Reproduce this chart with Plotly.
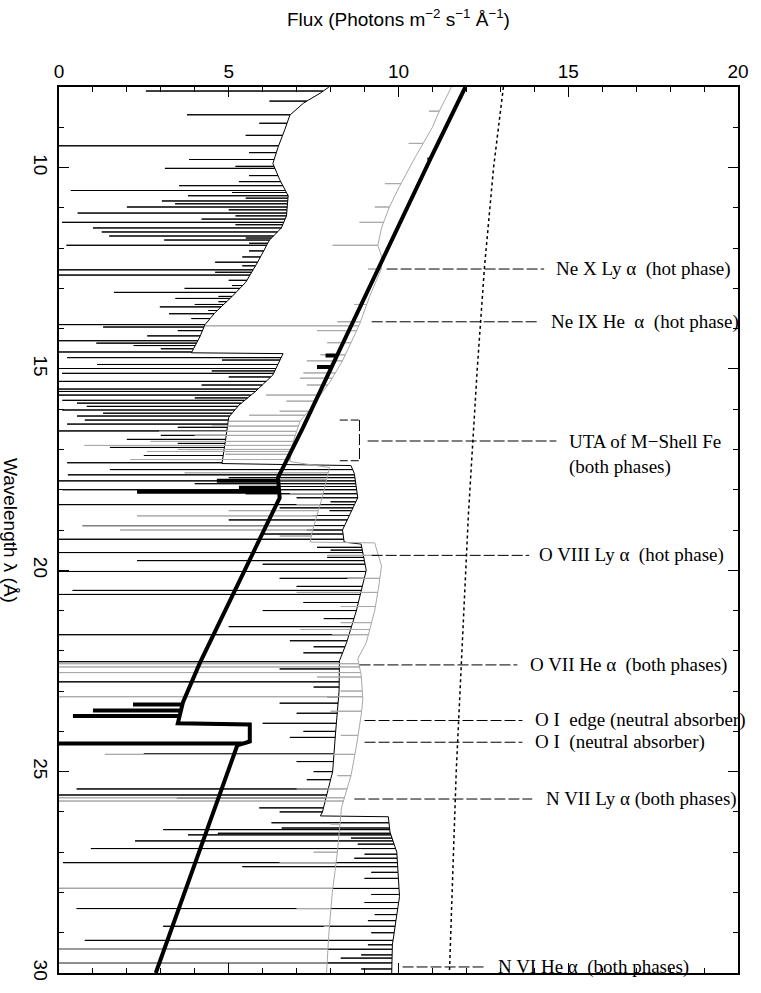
import numpy as np
import plotly.graph_objects as go

# ---------------- data ----------------
# thin black model spectrum: continuum knots (wavelength A, flux)
black_cont_wl = [8.00, 8.15, 8.40, 8.70, 9.06, 9.50, 9.90, 10.30, 10.70, 11.20, 11.50, 11.80,
                 12.35, 12.85, 13.20, 13.60, 13.90, 14.20, 14.60, 14.62, 15.15, 15.55, 15.90,
                 16.20, 16.80, 17.35, 17.40, 17.60, 18.20, 19.00, 19.30, 19.35, 20.00, 21.00,
                 21.80, 22.25, 23.00, 24.00, 25.00, 26.00, 26.10, 26.12, 26.50, 27.00, 28.10,
                 29.30, 30.00]
black_cont_flux = [7.95, 7.70, 7.20, 6.80, 6.65, 6.45, 6.30, 6.50, 6.75, 6.70, 6.55, 6.20,
                   5.85, 5.50, 5.10, 4.60, 4.30, 4.15, 3.90, 6.60, 6.30, 5.80, 5.30,
                   5.00, 4.90, 4.80, 8.60, 8.70, 8.80, 8.35, 8.40, 8.90, 9.05, 8.76,
                   8.47, 8.26, 8.25, 8.15, 8.06, 7.76, 7.70, 9.70, 9.75, 9.95, 10.03,
                   9.82, 9.80]
# absorption lines of the thin black spectrum: wavelength and minimum flux
black_line_wl = [8.10, 8.35, 8.69, 8.90, 9.20, 9.46, 9.63, 9.80, 9.97, 10.02, 10.20, 10.35,
                 10.45, 10.57, 10.62, 10.70, 10.76, 10.83, 10.90, 10.98, 11.05, 11.13, 11.20,
                 11.28, 11.36, 11.42, 11.50, 11.60, 11.70, 11.75, 11.80, 11.88, 11.93, 12.07,
                 12.22, 12.35, 12.44, 12.54, 12.60, 12.67, 12.80, 12.93, 13.00, 13.10, 13.20,
                 13.25, 13.33, 13.40, 13.46, 13.55, 13.63, 13.75, 13.90, 13.96, 14.05, 14.18,
                 14.30, 14.36, 14.42, 14.50, 14.58,
                 14.72, 14.78, 14.89, 14.99, 15.05, 15.11, 15.20, 15.31, 15.40, 15.50, 15.56,
                 15.65, 15.72, 15.78, 15.85, 15.93, 16.02, 16.10, 16.17, 16.27, 16.37, 16.45,
                 16.54, 16.65, 16.75, 16.85, 16.95, 17.05, 17.15, 17.25, 17.33,
                 17.50, 17.63, 17.70, 17.78, 17.85, 17.92, 18.00, 18.10, 18.20, 18.30, 18.37,
                 18.45, 18.52, 18.64, 18.75, 18.89, 19.00, 19.10, 19.23, 19.43, 19.50, 19.56,
                 19.68, 19.76, 19.85, 20.03, 20.20, 20.40, 20.50, 20.60, 20.80, 21.00, 21.20,
                 21.40, 21.60, 21.75, 21.90, 22.05, 22.27, 22.45, 22.77, 22.90, 23.14, 23.30,
                 23.55, 23.80, 24.00, 24.15, 24.55, 24.75, 25.00, 25.20, 25.43, 25.58, 25.65,
                 25.90, 26.00,
                 26.27, 26.40, 26.44, 26.53, 26.57, 26.65, 26.72, 26.80, 26.91, 27.05, 27.15,
                 27.26, 27.36, 27.50, 27.65, 27.90, 28.05, 28.25, 28.40, 28.55, 28.70, 28.84,
                 29.00, 29.19, 29.30, 29.41, 29.55, 29.63, 29.75, 29.90]
black_line_min = [2.56, 6.20, 3.77, 5.90, 5.50, 0.00, 5.60, 3.83, 5.20, 3.12, 5.60, 5.30,
                  3.54, 0.35, 5.10, 3.80, 5.50, 3.03, 3.42, 2.00, 5.00, 0.55, 5.20,
                  4.20, 0.09, 5.20, 1.00, 1.26, 1.48, 5.50, 3.10, 5.60, 0.22, 5.60,
                  5.40, 4.60, 5.40, 0.00, 4.60, 0.00, 5.00, 5.10, 3.70, 1.62, 4.70,
                  3.43, 4.70, 4.00, 2.97, 4.40, 3.24, 3.90, 0.00, 1.30, 3.50, 2.60,
                  0.00, 1.10, 2.20, 3.00, 0.00,
                  0.24, 4.80, 1.12, 0.26, 4.50, 0.09, 5.00, 0.00, 4.20, 0.00, 0.00,
                  0.00, 4.00, 0.10, 0.53, 0.82, 0.10, 1.30, 0.53, 0.76, 0.24, 3.50,
                  0.00, 3.00, 2.00, 3.50, 1.50, 3.80, 2.50, 3.20, 0.24,
                  1.50, 0.26, 5.00, 0.00, 4.00, 6.50, 0.10, 5.50, 7.00, 8.00, 0.00,
                  6.50, 7.97, 7.50, 5.00, 0.70, 7.30, 6.00, 0.00, 7.60, 8.00, 0.00,
                  7.90, 2.30, 6.00, 0.00, 6.50, 7.00, 0.40, 0.00, 7.20, 6.00, 7.80,
                  5.00, 0.00, 6.80, 7.50, 7.20, 0.00, 6.50, 0.00, 7.50, 7.90, 6.50,
                  7.00, 6.00, 7.20, 6.80, 2.50, 7.00, 7.50, 7.30, 0.52, 0.00, 3.47,
                  5.90, 6.50,
                  6.26, 6.56, 3.07, 4.68, 3.80, 8.60, 2.24, 8.80, 0.94, 9.00, 8.70,
                  0.12, 5.40, 9.20, 9.00, 0.00, 9.20, 9.00, 0.52, 9.30, 9.10, 3.07,
                  9.20, 0.76, 9.10, 0.00, 8.90, 8.30, 0.00, 8.90]

# thin grey model spectrum
gray_cont_wl = [8.00, 8.50, 9.00, 9.73, 10.47, 10.96, 11.50, 11.90, 12.20, 12.50, 13.20,
                13.90, 14.80, 15.30, 15.65, 16.00, 16.30, 16.80, 17.30, 17.45, 18.20, 19.10,
                19.30, 19.32, 19.90, 20.50, 21.00, 21.80, 22.20, 22.60, 23.20, 23.60, 24.37,
                25.10, 25.90, 27.00, 28.00, 29.00, 30.00]
gray_cont_flux = [11.56, 11.25, 11.00, 10.50, 10.03, 9.74, 9.50, 9.38, 9.50, 9.50, 9.15,
                  8.85, 8.35, 8.00, 7.70, 7.40, 7.10, 6.90, 6.80, 7.97, 7.75, 7.44,
                  7.40, 9.30, 9.50, 9.40, 9.30, 9.05, 8.80, 8.90, 8.95, 8.90, 8.76,
                  8.60, 8.32, 8.20, 8.05, 7.95, 7.88]
gray_line_wl = [8.60, 9.40, 10.40, 10.98, 11.36, 11.93, 12.52, 13.40, 13.83, 13.93, 14.05,
                14.35, 14.65, 14.80, 15.10, 15.23, 15.40, 15.65, 15.80, 16.05, 16.15, 16.30,
                16.42, 16.55, 16.65, 16.80, 16.90, 17.00, 17.05, 17.12, 17.25, 17.58, 17.75,
                18.10, 18.37, 18.52, 18.65, 18.90, 19.00, 19.15, 19.63, 20.20, 20.55, 20.90,
                21.30, 21.47, 21.60, 22.32, 22.40, 22.54, 22.65, 23.00, 23.14, 23.50, 24.10,
                24.57, 25.10, 25.43, 25.65, 25.73, 26.30, 27.00, 27.26, 27.90, 28.40, 28.84,
                29.41, 29.75]
gray_line_min = [10.90, 10.30, 9.60, 9.30, 8.85, 8.06, 9.10, 8.70, 8.20, 4.30, 7.60,
                 7.90, 7.70, 7.30, 7.20, 7.10, 7.30, 6.10, 6.70, 6.50, 5.60, 5.00,
                 4.50, 2.95, 4.00, 2.70, 0.75, 3.50, 2.60, 4.90, 2.10, 3.70, 6.50,
                 6.80, 7.00, 5.00, 2.30, 0.70, 1.80, 6.50, 7.90, 8.50, 7.00, 8.30,
                 8.30, 7.10, 8.05, 0.00, 0.00, 0.00, 7.60, 8.30, 0.00, 8.00, 8.30,
                 1.35, 8.20, 7.00, 0.00, 0.00, 8.00, 7.50, 6.50, 0.00, 7.00, 7.80,
                 0.00, 0.00]

# thick black curve (neutral-absorbed continuum)
thick_cont_wl = [8.00, 9.73, 11.40, 14.65, 16.47, 17.70, 18.20, 20.67, 22.30, 23.28, 23.80,
                 23.83, 24.25, 24.35, 30.00]
thick_cont_flux = [11.97, 10.97, 10.03, 8.20, 7.18, 6.45, 6.50, 5.09, 4.15, 3.65, 3.50,
                   5.62, 5.62, 5.25, 2.85]
thick_line_wl = [9.80, 14.67, 14.95, 17.78, 17.95, 18.05, 23.33, 23.48, 23.62, 24.30]
thick_line_min = [10.85, 7.85, 7.60, 4.65, 5.30, 2.30, 2.18, 1.00, 0.41, 0.00]

# dotted curve (unabsorbed continuum)
dotted_wl = [8.0, 10.0, 12.5, 15.0, 18.6, 20.0, 25.0, 30.0]
dotted_flux = [13.09, 12.80, 12.53, 12.32, 12.06, 11.98, 11.70, 11.50]

# line identifications: text, wavelength, leader start / end flux, text start flux
label_text = ["Ne X Ly α  (hot phase)", "Ne IX He  α  (hot phase)",
              "UTA of M−Shell Fe<br>(both phases)", "O VIII Ly α  (hot phase)",
              "O VII He α  (both phases)", "O I  edge (neutral absorber)",
              "O I  (neutral absorber)", "N VII Ly α (both phases)",
              "N VI He α  (both phases)"]
label_wl = [12.52, 13.83, 16.79, 19.63, 22.35, 23.73, 24.27, 25.68, 29.85]
leader_start = [9.65, 9.21, 9.09, 9.21, 8.85, 9.00, 9.00, 8.70, 10.12]
leader_end = [14.29, 14.15, 14.65, 13.85, 13.50, 13.65, 13.65, 13.94, 12.59]
text_start = [14.59, 14.44, 14.97, 14.09, 13.82, 13.97, 13.97, 14.29, 12.88]
# UTA bracket
uta_wl = [16.27, 17.28]
uta_flux = [8.27, 8.85]

x_ticks = [0, 5, 10, 15, 20]
y_ticks = [10, 15, 20, 25, 30]


def spectrum_path(cw, cf, lw, lm):
    cw = np.asarray(cw, float)
    cf = np.asarray(cf, float)
    ev = [(w, 0, f) for w, f in zip(cw, cf)] + [(w, 1, m) for w, m in zip(lw, lm)]
    ev.sort(key=lambda e: (e[0], e[1]))
    xs, ys = [], []
    for w, kind, v in ev:
        if kind == 0:
            xs.append(v); ys.append(w)
        else:
            base = float(np.interp(w, cw, cf))
            xs += [base, v, base]; ys += [w, w, w]
    return xs, ys


fig = go.Figure()
bx, by = spectrum_path(black_cont_wl, black_cont_flux, black_line_wl, black_line_min)
fig.add_trace(go.Scatter(x=bx, y=by, mode="lines", line=dict(color="black", width=1)))
gx, gy = spectrum_path(gray_cont_wl, gray_cont_flux, gray_line_wl, gray_line_min)
fig.add_trace(go.Scatter(x=gx, y=gy, mode="lines", line=dict(color="#a8a8a8", width=1)))
tx, ty = spectrum_path(thick_cont_wl, thick_cont_flux, thick_line_wl, thick_line_min)
fig.add_trace(go.Scatter(x=tx, y=ty, mode="lines", line=dict(color="black", width=4)))
fig.add_trace(go.Scatter(x=dotted_flux, y=dotted_wl, mode="lines",
                         line=dict(color="black", width=1.5, dash="dot")))

dash = "11px,3px"
labfont = dict(family="Liberation Serif", size=19, color="black")
for t, w, x0, x1, xt in zip(label_text, label_wl, leader_start, leader_end, text_start):
    fig.add_shape(type="line", xref="x", yref="y", x0=x0, x1=x1, y0=w, y1=w,
                  line=dict(color="black", width=1, dash=dash))
    two = "<br>" in t
    fig.add_annotation(x=xt, y=w, xref="x", yref="y", text=t, showarrow=False,
                       xanchor="left", yanchor="top" if two else "middle",
                       yshift=12 if two else 0, align="left", font=labfont)
# UTA bracket
fig.add_shape(type="line", xref="x", yref="y", x0=uta_flux[1], x1=uta_flux[1],
              y0=uta_wl[0], y1=uta_wl[1], line=dict(color="black", width=1, dash=dash))
for w in uta_wl:
    fig.add_shape(type="line", xref="x", yref="y", x0=uta_flux[0], x1=uta_flux[1],
                  y0=w, y1=w, line=dict(color="black", width=1, dash="8px,3px"))

axfont = dict(family="Liberation Sans", size=19, color="black")
common = dict(ticks="inside", ticklen=10, tickwidth=1, tickcolor="black", showgrid=False,
              zeroline=False, showline=True, linecolor="black", linewidth=1.5,
              mirror="ticks", tickfont=axfont,
              minor=dict(dtick=1, ticks="inside", ticklen=5, tickcolor="black",
                         tickwidth=1, showgrid=False))
fig.update_xaxes(range=[0, 20], side="top", tickvals=x_ticks, ticktext=[str(v) for v in x_ticks],
                 **common)
fig.update_yaxes(range=[30, 8], tickvals=y_ticks, ticktext=[str(v) for v in y_ticks],
                 tickangle=90, **common)

fig.add_annotation(xref="paper", yref="paper", x=0.5, y=1 + (87 - 18) / 891,
                   text="Flux (Photons m<sup>−2</sup> s<sup>−1</sup> Å<sup>−1</sup>)",
                   showarrow=False, xanchor="center", yanchor="middle", font=axfont)
fig.add_annotation(xref="paper", yref="paper", x=(11 - 59) / 680, y=0.5,
                   text="Wavelength λ (Å)", textangle=90, showarrow=False,
                   xanchor="center", yanchor="middle", font=axfont)

fig.update_layout(width=761, height=993, margin=dict(l=59, r=22, t=87, b=15),
                  plot_bgcolor="white", paper_bgcolor="white", showlegend=False)
fig.write_html("out.html")
